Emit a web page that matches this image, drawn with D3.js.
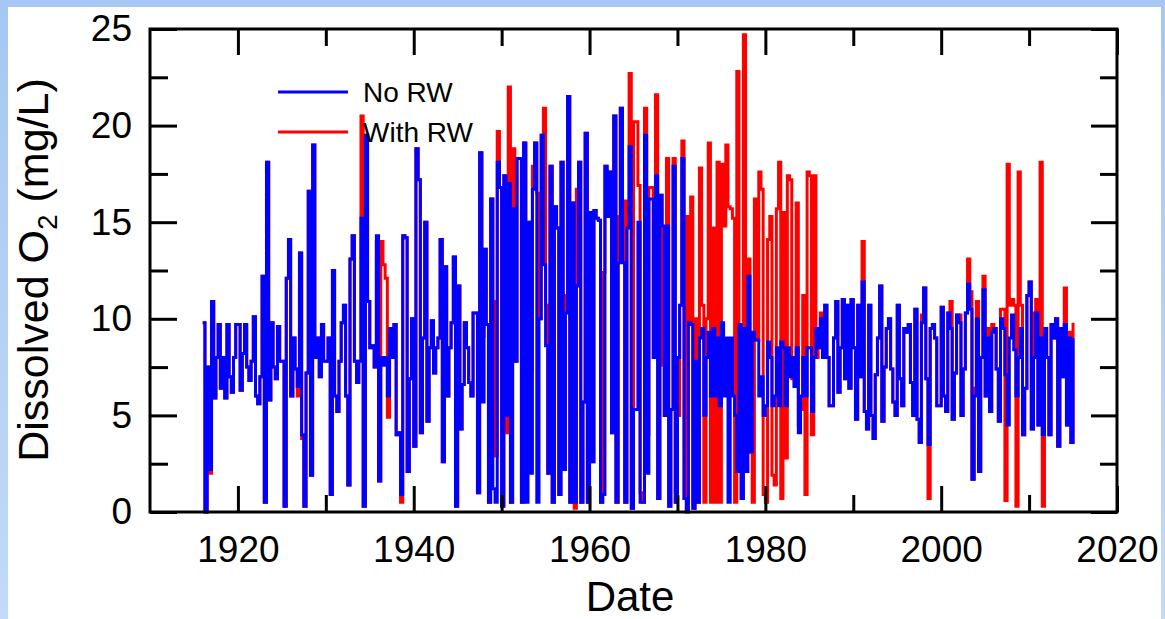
<!DOCTYPE html>
<html>
<head>
<meta charset="utf-8">
<script src="https://cdn.jsdelivr.net/npm/d3@7"></script>
<style>
  html, body { margin: 0; padding: 0; }
  body { width: 1165px; height: 619px; overflow: hidden; }
  text { font-family: "Liberation Sans", Arial, sans-serif; fill: #000; }
</style>
</head>
<body>
<svg id="chart" width="1165" height="619"></svg>
<script>
// ---- data (quarterly samples, one row per year) ----
const START_YEAR = 1916;
const STEP = 0.25;

const noRW = [
  [9.8, 0.0, 7.5, 2.2],   // 1916
  [10.9, 5.9, 8.0, 9.7],
  [6.4, 8.0, 5.9, 9.7],
  [7.0, 6.2, 8.0, 9.7],
  [9.7, 6.3, 8.2, 9.7],   // 1920
  [7.5, 6.8, 7.8, 10.1],
  [6.0, 5.6, 7.0, 12.2],
  [0.5, 18.1, 5.8, 9.8],
  [7.5, 6.9, 9.6, 7.8],
  [7.8, 0.3, 12.1, 14.1],
  [6.0, 9.0, 7.4, 6.5],
  [13.4, 4.0, 0.3, 7.2],
  [16.6, 1.9, 19.0, 8.0],
  [9.0, 7.0, 9.7, 7.8],
  [7.8, 9.0, 0.9, 12.5],  // 1930
  [6.0, 5.2, 7.8, 9.8],
  [10.7, 6.0, 1.4, 13.1],
  [14.3, 7.8, 6.7, 7.8],
  [15.2, 0.3, 19.5, 10.9],
  [8.5, 8.6, 7.5, 14.3],
  [1.6, 8.0, 7.6, 8.0],
  [6.0, 9.5, 8.0, 9.7],
  [4.0, 4.1, 0.9, 14.3],
  [14.2, 2.1, 6.9, 10.0],
  [3.4, 18.8, 17.2, 4.1], // 1940
  [9.0, 15.0, 4.7, 8.5],
  [9.9, 7.2, 8.5, 9.0],
  [14.1, 2.6, 12.7, 6.0],
  [8.5, 9.8, 13.2, 0.3],
  [11.7, 4.3, 6.6, 9.8],
  [8.5, 6.7, 6.0, 10.3],
  [10.3, 1.0, 18.6, 5.7],
  [13.6, 9.7, 0.5, 16.2],
  [1.2, 0.5, 18.1, 16.8],
  [0.3, 17.4, 5.0, 17.0], // 1950
  [0.5, 15.7, 7.8, 18.3],
  [18.3, 0.5, 19.1, 0.5],
  [15.0, 2.0, 16.7, 19.1],
  [0.5, 10.0, 19.5, 12.8],
  [8.6, 2.0, 17.9, 0.5],
  [15.8, 14.7, 0.9, 18.1],
  [2.2, 10.3, 21.5, 0.5],
  [16.0, 0.5, 11.7, 18.1],
  [0.5, 5.7, 19.6, 0.5],
  [15.5, 2.6, 15.6, 15.2], // 1960
  [15.1, 0.5, 0.9, 17.9],
  [15.3, 17.6, 4.1, 20.5],
  [0.5, 12.9, 20.9, 12.9],
  [0.5, 14.7, 18.9, 0.2],
  [5.3, 5.3, 15.0, 0.5],
  [0.5, 19.5, 2.0, 16.2],
  [16.2, 8.0, 17.4, 0.7],
  [16.4, 14.8, 5.0, 14.8],
  [0.3, 5.3, 17.9, 0.5],
  [8.0, 10.7, 18.3, 0.7], // 1970
  [0.0, 9.8, 9.7, 0.2],
  [7.8, 0.5, 9.0, 9.5],
  [5.0, 8.0, 9.3, 6.0],
  [9.5, 6.0, 9.0, 5.5],
  [9.8, 6.0, 9.0, 0.5],
  [9.0, 6.0, 5.0, 2.1],
  [9.7, 0.7, 9.5, 2.1],
  [12.2, 3.1, 9.3, 8.9],
  [8.9, 6.0, 7.0, 5.0],
  [5.5, 8.8, 8.0, 5.5],   // 1980
  [6.0, 8.5, 5.5, 8.8],
  [8.5, 5.5, 8.5, 7.0],
  [8.0, 6.5, 8.5, 4.1],
  [6.0, 8.0, 6.0, 8.5],
  [8.5, 5.2, 8.0, 9.5],
  [8.5, 10.0, 8.0, 10.7],
  [8.0, 5.5, 5.5, 9.0],
  [10.9, 6.2, 8.5, 11.0],
  [6.9, 10.7, 6.4, 11.0],
  [8.5, 4.8, 10.7, 7.0],  // 1990
  [11.9, 5.2, 4.3, 10.7],
  [5.0, 3.8, 7.1, 9.0],
  [11.7, 4.7, 7.5, 9.5],
  [10.0, 7.4, 5.7, 5.0],
  [10.7, 6.9, 5.5, 9.5],
  [9.3, 9.7, 6.7, 5.0],
  [10.5, 4.8, 3.6, 9.8],
  [11.6, 6.9, 3.5, 9.5],
  [9.7, 9.0, 5.5, 5.5],
  [10.6, 6.0, 5.2, 10.3], // 2000
  [9.5, 4.8, 7.2, 10.2],
  [9.8, 5.0, 7.4, 10.3],
  [11.8, 10.5, 1.7, 6.0],
  [10.0, 2.1, 8.0, 11.5],
  [6.0, 9.0, 5.2, 9.3],
  [9.5, 7.4, 4.7, 10.0],
  [9.5, 7.1, 4.5, 9.0],
  [10.2, 8.4, 6.0, 8.0],
  [9.5, 4.0, 6.4, 11.2],
  [11.9, 4.3, 8.0, 10.3], // 2010
  [4.5, 9.0, 4.0, 9.5],
  [8.0, 4.0, 9.7, 9.0],
  [10.0, 3.4, 9.5, 7.0],
  [9.7, 4.5, 9.0, 3.6],
  [9.0]                   // 2015
];

const withRW = [
  [9.8, 0.0, 7.5, 2.0],   // 1916
  [10.9, 5.9, 8.0, 9.7],
  [6.4, 8.0, 5.9, 9.7],
  [7.0, 6.2, 8.0, 9.7],
  [9.7, 6.3, 8.2, 9.7],   // 1920
  [7.5, 6.8, 7.8, 10.1],
  [6.0, 5.6, 7.0, 12.2],
  [0.5, 18.1, 5.8, 9.8],
  [7.5, 6.9, 9.6, 7.8],
  [7.8, 0.3, 12.1, 14.1],
  [6.0, 9.0, 7.4, 6.0],
  [13.4, 3.8, 0.3, 7.2],
  [16.6, 1.9, 19.0, 8.0],
  [9.0, 7.0, 9.7, 7.8],
  [7.8, 9.0, 0.9, 12.5],  // 1930
  [6.0, 5.2, 7.8, 9.8],
  [10.7, 6.0, 1.4, 13.1],
  [14.3, 7.8, 6.7, 7.8],
  [20.5, 0.3, 19.5, 10.9],
  [8.5, 8.6, 7.5, 14.0],
  [1.6, 14.0, 12.8, 12.1],
  [4.9, 9.5, 8.0, 9.7],
  [4.0, 4.1, 0.5, 14.3],
  [14.2, 2.1, 6.9, 10.0],
  [3.4, 18.8, 17.2, 4.1], // 1940
  [9.0, 15.0, 4.7, 8.5],
  [9.9, 7.2, 8.5, 9.0],
  [14.1, 2.6, 12.7, 6.0],
  [8.5, 9.8, 13.2, 0.3],
  [11.7, 4.3, 6.6, 9.8],
  [8.5, 6.7, 6.0, 10.3],
  [10.3, 1.0, 18.6, 9.1],
  [13.6, 9.7, 0.5, 16.2],
  [10.9, 2.9, 19.7, 16.8],
  [0.3, 17.4, 4.1, 22.0], // 1950
  [0.5, 18.8, 7.8, 18.3],
  [18.3, 0.5, 19.1, 15.0],
  [15.0, 7.2, 17.9, 19.1],
  [16.5, 10.0, 19.5, 20.9],
  [10.7, 2.0, 17.9, 0.5],
  [15.8, 14.7, 0.9, 18.1],
  [2.2, 11.2, 21.5, 0.5],
  [16.0, 0.2, 16.7, 18.1],
  [0.5, 5.7, 19.6, 0.5],
  [15.5, 2.6, 15.6, 15.2], // 1960
  [15.1, 0.5, 12.4, 17.9],
  [15.3, 17.6, 4.1, 20.5],
  [0.5, 15.3, 20.9, 16.1],
  [0.5, 16.1, 22.7, 0.2],
  [20.2, 20.2, 16.9, 1.0],
  [0.5, 20.9, 4.0, 16.8],
  [16.8, 8.0, 21.6, 0.7],
  [16.4, 7.6, 5.0, 18.3],
  [0.3, 5.3, 18.3, 0.5],
  [5.0, 10.7, 19.2, 0.7], // 1970
  [15.3, 9.8, 16.3, 0.2],
  [10.0, 0.5, 17.8, 10.7],
  [0.5, 10.0, 19.1, 0.5],
  [14.7, 0.5, 18.1, 0.5],
  [18.0, 14.8, 19.0, 15.8],
  [15.7, 15.2, 0.5, 22.8],
  [2.1, 0.7, 24.7, 2.1],
  [13.1, 3.1, 0.5, 16.2],
  [8.9, 17.6, 16.7, 0.9],
  [0.5, 14.1, 15.3, 1.9], // 1980
  [1.4, 15.7, 18.1, 0.7],
  [15.5, 2.8, 17.4, 17.2],
  [6.9, 6.9, 16.0, 4.5],
  [5.3, 11.2, 0.9, 17.6],
  [17.4, 4.0, 17.4, 8.0],
  [8.5, 10.3, 8.0, 10.7],
  [8.0, 5.5, 5.5, 9.0],
  [10.9, 6.2, 8.5, 11.0],
  [6.9, 10.7, 6.4, 11.0],
  [8.5, 4.8, 10.7, 7.0],  // 1990
  [14.0, 5.2, 4.3, 10.7],
  [5.0, 3.8, 7.1, 9.0],
  [11.7, 4.7, 7.5, 9.5],
  [10.0, 7.4, 5.7, 5.0],
  [10.7, 6.9, 5.5, 9.5],
  [9.3, 9.7, 6.7, 5.2],
  [10.5, 4.8, 3.6, 10.2],
  [11.6, 6.9, 0.7, 9.5],
  [9.7, 9.0, 5.5, 5.5],
  [10.6, 6.0, 5.2, 10.3], // 2000
  [10.9, 4.8, 7.2, 10.2],
  [10.2, 5.0, 7.4, 10.3],
  [13.1, 11.4, 1.7, 6.4],
  [10.9, 2.1, 8.0, 12.2],
  [6.0, 9.5, 5.2, 9.7],
  [9.5, 7.4, 4.7, 10.5],
  [10.5, 0.6, 18.0, 10.7],
  [11.0, 10.7, 0.3, 17.6],
  [10.7, 4.0, 6.4, 11.2],
  [11.9, 4.3, 10.3, 11.0], // 2010
  [4.5, 18.1, 0.3, 9.5],
  [8.0, 4.0, 9.7, 9.0],
  [10.0, 3.4, 9.5, 7.0],
  [11.6, 4.5, 9.3, 3.6],
  [9.8]                    // 2015
];

const xMajorTicks = [1920, 1940, 1960, 1980, 2000, 2020];
const xMinorTicks = [1930, 1950, 1970, 1990, 2010];
const yMajorTicks = [0, 5, 10, 15, 20, 25];
const yMinorTicks = [2.5, 7.5, 12.5, 17.5, 22.5];
const seriesNames = ["No RW", "With RW"];
const seriesColors = ["#0000ff", "#ff0000"];

// ---- drawing ----
const svg = d3.select("#chart");
const W = 1165, H = 619;

const defs = svg.append("defs");
const grad = defs.append("linearGradient").attr("id", "bg").attr("x1", 0).attr("y1", 0).attr("x2", 0).attr("y2", 1);
grad.append("stop").attr("offset", "0%").attr("stop-color", "#a6c7f3");
grad.append("stop").attr("offset", "100%").attr("stop-color", "#c3daf8");
svg.append("rect").attr("width", W).attr("height", H).attr("fill", "url(#bg)");
svg.append("rect").attr("x", 8).attr("y", 7).attr("width", 1153).attr("height", H - 7).attr("fill", "#fff");

const L = 150, R = 1117, T = 29, B = 512;
const x = d3.scaleLinear().domain([1910, 2020]).range([L, R]);
const y = d3.scaleLinear().domain([0, 25]).range([B, T]);

const toPoints = rows => rows.flat().map((v, i) => ({ t: START_YEAR + i * STEP, v }));
const line = d3.line().x(d => x(d.t)).y(d => y(d.v)).curve(d3.curveStepAfter);

const plot = svg.append("g");
plot.append("path").datum(toPoints(withRW))
  .attr("d", line).attr("fill", "none").attr("stroke", seriesColors[1])
  .attr("stroke-width", 3).attr("stroke-linejoin", "miter");
plot.append("path").datum(toPoints(noRW))
  .attr("d", line).attr("fill", "none").attr("stroke", seriesColors[0])
  .attr("stroke-width", 3).attr("stroke-linejoin", "miter");

// axes
const FS = 37;
function styleAxis(g, keepText) {
  g.select(".domain").remove();
  g.selectAll(".tick line").attr("stroke", "#000").attr("stroke-width", 3);
  if (keepText) {
    g.selectAll(".tick text").attr("font-size", FS).attr("font-family", '"Liberation Sans", Arial, sans-serif').attr("fill", "#000");
  } else {
    g.selectAll(".tick text").remove();
  }
}
svg.append("g").attr("transform", `translate(0,${B})`)
  .call(d3.axisBottom(x).tickValues(xMajorTicks).tickSize(-26).tickPadding(24).tickFormat(d3.format("d")))
  .call(g => styleAxis(g, true));
svg.append("g").attr("transform", `translate(0,${B})`)
  .call(d3.axisBottom(x).tickValues(xMinorTicks).tickSize(-17))
  .call(g => styleAxis(g, false));
svg.append("g").attr("transform", `translate(0,${T})`)
  .call(d3.axisTop(x).tickValues(xMajorTicks).tickSize(-26))
  .call(g => styleAxis(g, false));
svg.append("g").attr("transform", `translate(0,${T})`)
  .call(d3.axisTop(x).tickValues(xMinorTicks).tickSize(-17))
  .call(g => styleAxis(g, false));
svg.append("g").attr("transform", `translate(${L},0)`)
  .call(d3.axisLeft(y).tickValues(yMajorTicks).tickSize(-27).tickPadding(18).tickFormat(d3.format("d")))
  .call(g => styleAxis(g, true));
svg.append("g").attr("transform", `translate(${L},0)`)
  .call(d3.axisLeft(y).tickValues(yMinorTicks).tickSize(-18))
  .call(g => styleAxis(g, false));
svg.append("g").attr("transform", `translate(${R},0)`)
  .call(d3.axisRight(y).tickValues(yMajorTicks).tickSize(-26))
  .call(g => styleAxis(g, false));
svg.append("g").attr("transform", `translate(${R},0)`)
  .call(d3.axisRight(y).tickValues(yMinorTicks).tickSize(-17))
  .call(g => styleAxis(g, false));

// frame
svg.append("rect").attr("x", L).attr("y", T).attr("width", R - L).attr("height", B - T)
  .attr("fill", "none").attr("stroke", "#000").attr("stroke-width", 3);

// axis titles
svg.append("text").attr("x", 630).attr("y", 611)
  .attr("text-anchor", "middle").attr("font-size", 42).text("Date");
const yt = svg.append("text").attr("transform", "translate(48,270) rotate(-90)")
  .attr("text-anchor", "middle").attr("font-size", 43);
yt.append("tspan").text("Dissolved O");
yt.append("tspan").attr("font-size", 28).attr("dy", 9).text("2");
yt.append("tspan").attr("dy", -9).text(" (mg/L)");

// legend
const lg = svg.append("g");
seriesNames.forEach((name, i) => {
  const yy = 92 + i * 40;
  lg.append("line").attr("x1", 278).attr("x2", 348).attr("y1", yy).attr("y2", yy)
    .attr("stroke", seriesColors[i]).attr("stroke-width", 3);
  lg.append("text").attr("x", 363).attr("y", yy + 10).attr("font-size", 28).text(name);
});
</script>
</body>
</html>
